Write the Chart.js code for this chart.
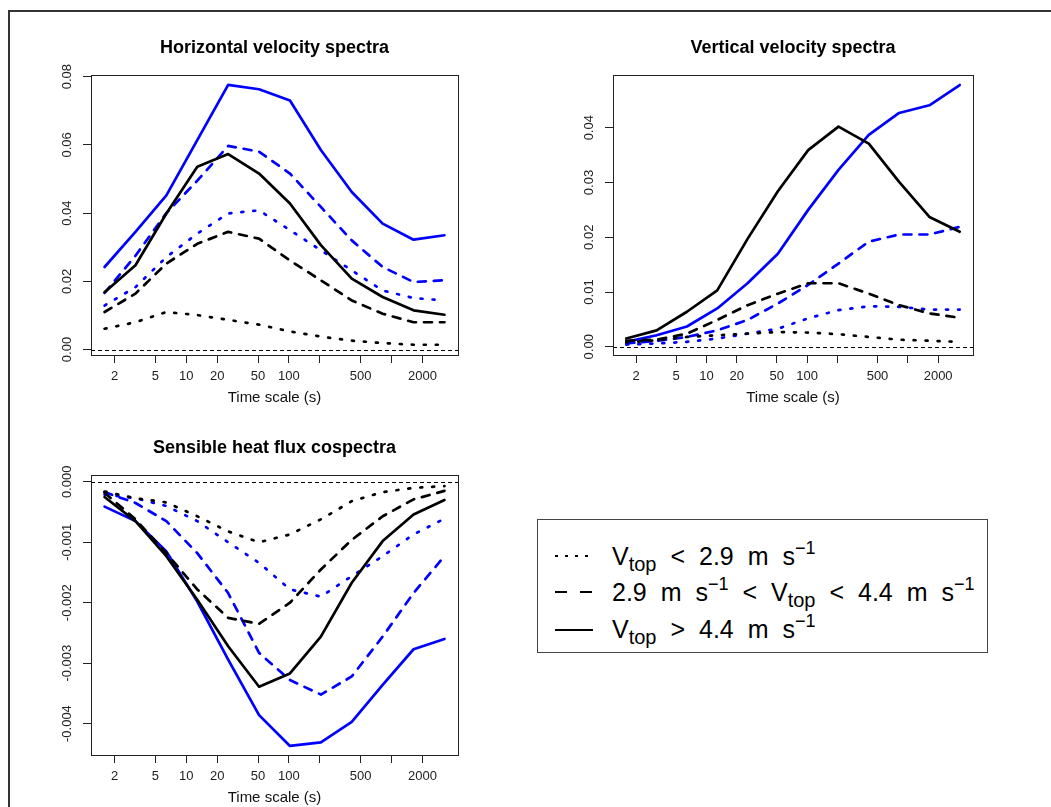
<!DOCTYPE html>
<html>
<head>
<meta charset="utf-8">
<script src="https://cdn.jsdelivr.net/npm/chart.js@4.4.0/dist/chart.umd.min.js"></script>
<style>
  body { margin: 0; background: #fff; width: 1051px; height: 807px; overflow: hidden; position: relative;
         font-family: "Liberation Sans", Arial, sans-serif; }
  .frame { position: absolute; left: 8px; top: 10px; width: 1200px; height: 1000px;
           border-left: 2px solid #333; border-top: 2px solid #333; }
  .panel { position: absolute; }
  #legend { position: absolute; left: 537px; top: 519px; width: 451px; height: 134px;
            box-sizing: border-box; border: 1px solid #444; background: #fff; }
  #legend svg { position: absolute; left: 0; top: 0; }
  .row { position: absolute; left: 74px; font-size: 25px; line-height: 30px; height: 30px;
         white-space: nowrap; color: #000; word-spacing: 7px; }
  .sub { font-size: 20px; position: relative; top: 6px; }
  .sup { font-size: 18px; position: relative; top: -11px; }
</style>
</head>
<body>
<div class="frame"></div>
<div class="panel" style="left:0;top:0"><canvas id="hvs" width="520" height="420"></canvas></div>
<div class="panel" style="left:520px;top:0"><canvas id="vvs" width="531" height="420"></canvas></div>
<div class="panel" style="left:0;top:420px"><canvas id="shf" width="520" height="387"></canvas></div>

<div id="legend">
  <svg width="449" height="132">
    <line x1="17" y1="36" x2="55" y2="36" stroke="#000" stroke-width="2" stroke-dasharray="3 7"/>
    <line x1="17" y1="72" x2="55" y2="72" stroke="#000" stroke-width="2" stroke-dasharray="12 13"/>
    <line x1="17" y1="110" x2="55" y2="110" stroke="#000" stroke-width="2"/>
  </svg>
  <div class="row" style="top:21px">V<span class="sub">top</span> &lt; 2.9 m s<span class="sup">&minus;1</span></div>
  <div class="row" style="top:57px">2.9 m s<span class="sup">&minus;1</span> &lt; V<span class="sub">top</span> &lt; 4.4 m s<span class="sup">&minus;1</span></div>
  <div class="row" style="top:94px">V<span class="sub">top</span> &gt; 4.4 m s<span class="sup">&minus;1</span></div>
</div>

<script>
// 横轴：时间尺度 (s)，每档翻倍
const timeScale = [1.6, 3.2, 6.4, 12.8, 25.6, 51.2, 102.4, 204.8, 409.6, 819.2, 1638.4, 3276.8];
const xTicks = [2, 5, 10, 20, 50, 100, 200, 500, 1000, 2000];
const xTickLabels = ['2', '5', '10', '20', '50', '100', '', '500', '', '2000'];
const xRange = [1.18, 4440];

// Horizontal velocity spectra
const hBlackDot   = [0.0061, 0.0080, 0.0110, 0.0101, 0.0087, 0.0073, 0.0053, 0.0038, 0.0026, 0.0019, 0.0014, 0.0014];
const hBlackDash  = [0.0110, 0.0164, 0.0252, 0.0310, 0.0345, 0.0325, 0.0261, 0.0203, 0.0144, 0.0105, 0.0080, 0.0080];
const hBlackSolid = [0.0168, 0.0247, 0.0399, 0.0536, 0.0573, 0.0516, 0.0428, 0.0306, 0.0208, 0.0154, 0.0115, 0.0102];
const hBlueDot    = [0.0129, 0.0183, 0.0271, 0.0340, 0.0399, 0.0408, 0.0350, 0.0291, 0.0232, 0.0173, 0.0151, 0.0144];
const hBlueDash   = [0.0166, 0.0275, 0.0400, 0.0495, 0.0597, 0.0580, 0.0516, 0.0418, 0.0320, 0.0242, 0.0198, 0.0203];
const hBlueSolid  = [0.0242, 0.0345, 0.0452, 0.0614, 0.0776, 0.0763, 0.0730, 0.0585, 0.0462, 0.0369, 0.0322, 0.0335];
const hYRange = [-0.0016, 0.0806];
const hYTicks = [0, 0.02, 0.04, 0.06, 0.08];
const hYLabels = ['0.00', '0.02', '0.04', '0.06', '0.08'];

// Vertical velocity spectra
const vBlackDot   = [0.0008, 0.0012, 0.0018, 0.0021, 0.0024, 0.0027, 0.0026, 0.0023, 0.0018, 0.0013, 0.0011, 0.0009];
const vBlackDash  = [0.0011, 0.0013, 0.0024, 0.0049, 0.0076, 0.0097, 0.0116, 0.0116, 0.0097, 0.0076, 0.0061, 0.0053];
const vBlackSolid = [0.0015, 0.0030, 0.0064, 0.0103, 0.0197, 0.0284, 0.0359, 0.0402, 0.0371, 0.0301, 0.0237, 0.0210];
const vBlueDot    = [0.0004, 0.0006, 0.0009, 0.0015, 0.0024, 0.0033, 0.0052, 0.0067, 0.0074, 0.0073, 0.0068, 0.0068];
const vBlueDash   = [0.0006, 0.0011, 0.0018, 0.0030, 0.0049, 0.0079, 0.0113, 0.0152, 0.0192, 0.0205, 0.0205, 0.0219];
const vBlueSolid  = [0.0009, 0.0021, 0.0037, 0.0070, 0.0116, 0.0170, 0.0250, 0.0323, 0.0387, 0.0427, 0.0441, 0.0478];
const vYRange = [-0.0015, 0.0497];
const vYTicks = [0, 0.01, 0.02, 0.03, 0.04];
const vYLabels = ['0.00', '0.01', '0.02', '0.03', '0.04'];

// Sensible heat flux cospectra
const sBlackDot   = [-0.00016, -0.00027, -0.00034, -0.00057, -0.00082, -0.00100, -0.00087, -0.00062, -0.00032, -0.00017, -0.00010, -0.00007];
const sBlackDash  = [-0.00018, -0.00062, -0.00118, -0.00178, -0.00225, -0.00235, -0.00200, -0.00145, -0.00096, -0.00057, -0.00029, -0.00015];
const sBlackSolid = [-0.00025, -0.00065, -0.00123, -0.00195, -0.00272, -0.00339, -0.00317, -0.00256, -0.00167, -0.00098, -0.00054, -0.00030];
const sBlueDot    = [-0.00021, -0.00027, -0.00040, -0.00065, -0.00100, -0.00134, -0.00178, -0.00190, -0.00156, -0.00123, -0.00087, -0.00061];
const sBlueDash   = [-0.00017, -0.00035, -0.00065, -0.00118, -0.00184, -0.00283, -0.00328, -0.00352, -0.00322, -0.00256, -0.00184, -0.00123];
const sBlueSolid  = [-0.00041, -0.00065, -0.00115, -0.00198, -0.00294, -0.00386, -0.00437, -0.00431, -0.00397, -0.00336, -0.00277, -0.00260];
const sYRange = [-0.00452, 0.00012];
const sYTicks = [0, -0.001, -0.002, -0.003, -0.004];
const sYLabels = ['0.000', '-0.001', '-0.002', '-0.003', '-0.004'];

const FONT = '"Liberation Sans", Arial, Helvetica, sans-serif';
const BLUE = '#0000ff';
const DASH = { dot: [2, 10], dash: [8, 8], solid: [] };

Chart.defaults.font.family = FONT;
Chart.defaults.color = '#222';

// R 风格：外框、零线、竖排 y 轴刻度标签
const rFrame = {
    id: 'rFrame',
    beforeDatasetsDraw(chart) {
        const { ctx, chartArea: a, scales: { y } } = chart;
        const y0 = Math.round(y.getPixelForValue(0)) + 0.5;
        ctx.save();
        ctx.strokeStyle = '#000';
        ctx.lineWidth = 1;
        ctx.setLineDash([4, 3]);
        ctx.beginPath();
        ctx.moveTo(a.left, y0);
        ctx.lineTo(a.right, y0);
        ctx.stroke();
        ctx.restore();
    },
    afterDraw(chart, args, opts) {
        const { ctx, chartArea: a, scales: { y } } = chart;
        ctx.save();
        ctx.strokeStyle = '#222';
        ctx.lineWidth = 1;
        ctx.strokeRect(Math.round(a.left) + 0.5, Math.round(a.top) + 0.5,
                       Math.round(a.right - a.left), Math.round(a.bottom - a.top));
        ctx.fillStyle = '#222';
        ctx.font = '13px ' + FONT;
        ctx.textAlign = 'center';
        ctx.textBaseline = 'middle';
        y.ticks.forEach((t, i) => {
            ctx.save();
            ctx.translate(a.left - 24, y.getPixelForValue(t.value));
            ctx.rotate(-Math.PI / 2);
            ctx.fillText(opts.yLabels[i], 0, 0);
            ctx.restore();
        });
        ctx.restore();
    }
};

function line(label, values, color, style) {
    return {
        label: label,
        data: values.map((v, i) => ({ x: timeScale[i], y: v })),
        borderColor: color,
        borderWidth: 2.7,
        borderDash: DASH[style],
        borderCapStyle: 'round',
        borderJoinStyle: 'round',
        pointRadius: 0,
        fill: false,
        tension: 0
    };
}

function makeChart(id, title, titlePad, datasets, yRange, yTicks, yLabels, pad) {
    return new Chart(document.getElementById(id), {
        type: 'line',
        data: { datasets: datasets },
        plugins: [rFrame],
        options: {
            responsive: false,
            animation: false,
            events: [],
            layout: { padding: pad },
            plugins: {
                legend: { display: false },
                tooltip: { enabled: false },
                title: {
                    display: true,
                    text: title,
                    color: '#000',
                    font: { size: 18, weight: 'bold' },
                    padding: titlePad
                },
                rFrame: { yLabels: yLabels }
            },
            scales: {
                x: {
                    type: 'logarithmic',
                    min: xRange[0],
                    max: xRange[1],
                    afterBuildTicks: axis => { axis.ticks = xTicks.map(v => ({ value: v })); },
                    afterFit: axis => { axis.height = 52; },
                    border: { display: false },
                    grid: { display: true, drawOnChartArea: false, drawTicks: true, tickLength: 8, color: '#222' },
                    ticks: {
                        autoSkip: false, maxRotation: 0, minRotation: 0, padding: 6,
                        color: '#222', font: { size: 13 },
                        callback: (v, i) => xTickLabels[i]
                    },
                    title: { display: true, text: 'Time scale (s)', color: '#111', font: { size: 15 }, padding: 0 }
                },
                y: {
                    type: 'linear',
                    min: yRange[0],
                    max: yRange[1],
                    afterBuildTicks: axis => { axis.ticks = yTicks.map(v => ({ value: v })); },
                    afterFit: axis => { axis.width = 0; },
                    border: { display: false },
                    grid: { display: true, drawOnChartArea: false, drawTicks: true, tickLength: 8, color: '#222' },
                    ticks: { display: false }
                }
            }
        }
    });
}

makeChart('hvs', 'Horizontal velocity spectra', { top: 37, bottom: 16 }, [
    line('V_top < 2.9 (black)', hBlackDot, '#000', 'dot'),
    line('2.9 < V_top < 4.4 (black)', hBlackDash, '#000', 'dash'),
    line('V_top > 4.4 (black)', hBlackSolid, '#000', 'solid'),
    line('V_top < 2.9 (blue)', hBlueDot, BLUE, 'dot'),
    line('2.9 < V_top < 4.4 (blue)', hBlueDash, BLUE, 'dash'),
    line('V_top > 4.4 (blue)', hBlueSolid, BLUE, 'solid')
], hYRange, hYTicks, hYLabels, { left: 91, right: 62, top: 0, bottom: 13 });

makeChart('vvs', 'Vertical velocity spectra', { top: 37, bottom: 16 }, [
    line('V_top < 2.9 (black)', vBlackDot, '#000', 'dot'),
    line('2.9 < V_top < 4.4 (black)', vBlackDash, '#000', 'dash'),
    line('V_top > 4.4 (black)', vBlackSolid, '#000', 'solid'),
    line('V_top < 2.9 (blue)', vBlueDot, BLUE, 'dot'),
    line('2.9 < V_top < 4.4 (blue)', vBlueDash, BLUE, 'dash'),
    line('V_top > 4.4 (blue)', vBlueSolid, BLUE, 'solid')
], vYRange, vYTicks, vYLabels, { left: 93, right: 78, top: 0, bottom: 13 });

makeChart('shf', 'Sensible heat flux cospectra', { top: 17, bottom: 16 }, [
    line('V_top < 2.9 (black)', sBlackDot, '#000', 'dot'),
    line('2.9 < V_top < 4.4 (black)', sBlackDash, '#000', 'dash'),
    line('V_top > 4.4 (black)', sBlackSolid, '#000', 'solid'),
    line('V_top < 2.9 (blue)', sBlueDot, BLUE, 'dot'),
    line('2.9 < V_top < 4.4 (blue)', sBlueDash, BLUE, 'dash'),
    line('V_top > 4.4 (blue)', sBlueSolid, BLUE, 'solid')
], sYRange, sYTicks, sYLabels, { left: 91, right: 62, top: 0, bottom: 0 });
</script>
</body>
</html>
